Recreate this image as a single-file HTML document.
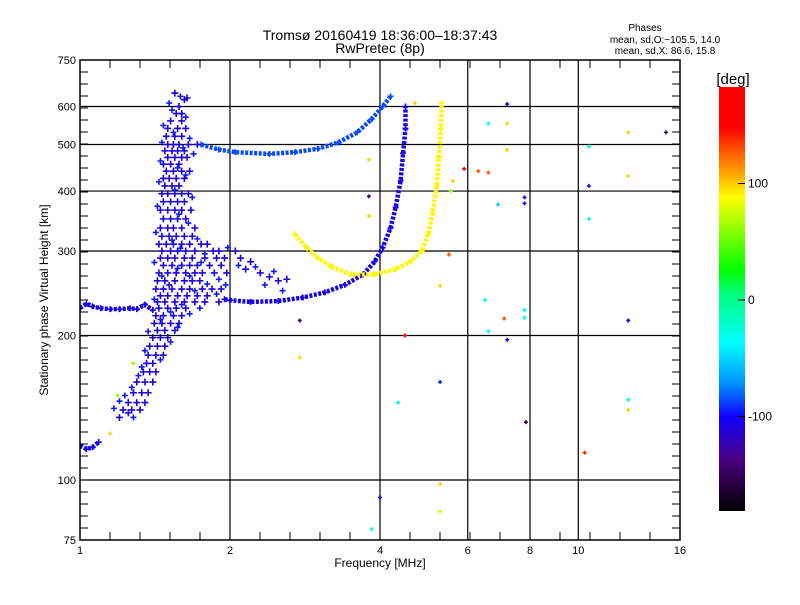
<!DOCTYPE html>
<html><head><meta charset="utf-8">
<style>
body{margin:0;background:#fff;}
svg text{font-family:"Liberation Sans",sans-serif;fill:#000;}
</style></head>
<body>
<svg id="chart" width="800" height="600" viewBox="0 0 800 600" xmlns="http://www.w3.org/2000/svg">
<defs>
<linearGradient id="cbg" x1="0" y1="1" x2="0" y2="0">
<stop offset="0" stop-color="#000000"/>
<stop offset="0.12" stop-color="#4a0080"/>
<stop offset="0.222" stop-color="#1000ff"/>
<stop offset="0.30" stop-color="#0090ff"/>
<stop offset="0.396" stop-color="#00ffff"/>
<stop offset="0.51" stop-color="#00ff80"/>
<stop offset="0.568" stop-color="#00ff00"/>
<stop offset="0.74" stop-color="#ffff00"/>
<stop offset="0.81" stop-color="#ff9000"/>
<stop offset="0.905" stop-color="#ff0000"/>
<stop offset="1" stop-color="#ff0000"/>
</linearGradient>
<clipPath id="pc"><rect x="80" y="60" width="600" height="480"/></clipPath>
</defs>
<text x="380" y="40" font-size="14" text-anchor="middle">Tromsø 20160419 18:36:00–18:37:43</text>
<text x="380" y="53" font-size="14" text-anchor="middle">RwPretec (8p)</text>
<g font-size="10" text-anchor="middle">
<text x="645" y="31">Phases</text>
<text x="665" y="43">mean, sd,O:−105.5, 14.0</text>
<text x="665" y="54">mean, sd,X:  86.6, 15.8</text>
</g>
<g id="grid"></g>
<g id="marks" clip-path="url(#pc)"></g>
<rect x="80" y="60" width="600" height="480" fill="none" stroke="#000" stroke-width="1.5"/>
<g id="ticks"></g>
<text x="380" y="567" font-size="12" text-anchor="middle">Frequency [MHz]</text>
<text x="48" y="300" font-size="12" text-anchor="middle" transform="rotate(-90 48 300)">Stationary phase Virtual Height [km]</text>
<rect x="719" y="87" width="26" height="424" fill="url(#cbg)"/>
<text x="733" y="84" font-size="15" text-anchor="middle">[deg]</text>
<g id="cbticks" font-size="12"></g>
</svg>
<script>
const xTicks=[1,2,4,6,8,10,16];
const yTicks=[75,100,200,300,400,500,600,750];
const xGrid=[2,4,6,8,10];
const yGrid=[100,200,300,400,500,600];
const cbTicks=[100,0,-100];
// traces: [freq MHz, height km]
const lowTrace=[[1.0,228],[1.03,233],[1.06,230],[1.1,228],[1.15,227],[1.2,227],[1.26,228],[1.3,227],[1.35,232],[1.4,226]];
const esTrace=[[1.0,118],[1.03,116],[1.06,117],[1.09,120]];
const oTrace=[[1.95,238],[2.0,237],[2.2,235],[2.5,236],[2.8,240],[3.1,246],[3.4,255],[3.7,268],[3.9,285],[4.05,305],[4.2,335],[4.3,370],[4.4,420],[4.45,480],[4.5,540],[4.5,600]];
const upperTrace=[[1.75,500],[1.9,488],[2.05,482],[2.4,478],[2.7,482],[3.0,490],[3.3,505],[3.6,530],[3.85,565],[4.05,600],[4.2,630]];
const xTrace=[[2.7,325],[2.85,305],[3.0,290],[3.2,278],[3.5,268],[3.9,268],[4.3,275],[4.6,285],[4.85,300],[5.0,325],[5.1,360],[5.2,410],[5.25,470],[5.3,540],[5.32,610]];
const tracePhase=[-105,-105,-105,-85,90];
const cluster=[[1.55,640],[1.62,620],[1.64,625],[1.58,600],[1.56,580],[1.6,580],[1.52,560],[1.6,560],[1.5,540],[1.57,540],[1.63,540],[1.49,520],[1.55,520],[1.6,520],[1.5,500],[1.54,500],[1.58,500],[1.65,500],[1.72,500],[1.48,485],[1.53,485],[1.57,485],[1.62,485],[1.5,470],[1.55,470],[1.6,470],[1.64,470],[1.47,455],[1.52,455],[1.58,455],[1.49,440],[1.54,440],[1.6,440],[1.66,440],[1.47,425],[1.51,425],[1.56,425],[1.62,425],[1.48,410],[1.53,410],[1.58,410],[1.46,395],[1.5,395],[1.55,395],[1.6,395],[1.65,395],[1.47,380],[1.52,380],[1.57,380],[1.62,380],[1.45,365],[1.5,365],[1.55,365],[1.6,365],[1.67,365],[1.47,350],[1.52,350],[1.57,350],[1.63,350],[1.45,335],[1.5,335],[1.54,335],[1.6,335],[1.7,335],[1.46,322],[1.51,322],[1.56,322],[1.62,322],[1.68,322],[1.44,310],[1.49,310],[1.54,310],[1.6,310],[1.66,310],[1.75,310],[1.8,310],[1.46,300],[1.52,300],[1.57,300],[1.63,300],[1.7,300],[1.85,300],[1.9,300],[1.45,290],[1.5,290],[1.55,290],[1.62,290],[1.68,290],[1.78,290],[1.88,290],[1.95,290],[1.47,280],[1.53,280],[1.6,280],[1.66,280],[1.72,280],[1.82,280],[1.92,280],[1.44,270],[1.5,270],[1.56,270],[1.63,270],[1.7,270],[1.76,270],[1.86,270],[1.97,270],[1.43,260],[1.48,260],[1.55,260],[1.62,260],[1.68,260],[1.74,260],[1.42,250],[1.47,250],[1.53,250],[1.6,250],[1.66,250],[1.76,250],[1.84,250],[1.92,250],[1.45,242],[1.5,242],[1.57,242],[1.64,242],[1.72,242],[1.8,242],[1.43,235],[1.48,235],[1.55,235],[1.62,235],[1.7,235],[1.78,235],[1.9,235],[1.44,228],[1.5,228],[1.56,228],[1.63,228],[1.42,220],[1.47,220],[1.54,220],[1.6,220],[1.41,212],[1.46,212],[1.52,212],[1.58,212],[1.43,205],[1.48,205],[1.55,205],[1.4,198],[1.45,198],[1.5,198],[1.38,190],[1.43,190],[1.48,190],[1.37,182],[1.42,182],[1.47,182],[1.36,175],[1.4,175],[1.34,168],[1.38,168],[1.42,168],[1.3,160],[1.35,160],[1.4,160],[1.28,152],[1.33,152],[1.37,152],[1.25,145],[1.3,145],[1.35,145],[1.22,140],[1.27,140],[1.32,140],[1.2,135],[1.25,138],[2.05,300],[2.1,290],[2.15,275],[2.2,285],[2.3,270],[2.4,265],[2.5,260],[2.6,262]];
const cluster2=[[1.51,610],[1.59,630],[1.53,590],[1.63,570],[1.47,548],[1.54,530],[1.66,515],[1.46,505],[1.61,492],[1.69,478],[1.45,462],[1.57,447],[1.63,432],[1.44,418],[1.55,402],[1.68,388],[1.43,372],[1.58,358],[1.65,343],[1.42,328],[1.53,316],[1.72,318],[1.59,304],[1.78,296],[1.41,284],[1.57,276],[1.75,284],[1.9,262],[1.46,266],[1.66,266],[1.8,256],[1.51,255],[1.7,248],[1.88,244],[1.41,238],[1.6,232],[1.74,228],[1.52,224],[1.66,222],[1.45,216],[1.57,208],[1.37,204],[1.52,194],[1.35,186],[1.45,178],[1.33,172],[1.31,165],[1.27,156],[1.23,150],[1.2,146],[1.17,141],[1.28,135],[1.98,305],[2.08,280],[2.25,278],[2.45,272],[2.35,255],[2.55,248],[1.96,255]];
const clusterPhase=-108;
const isoF=[4.0,3.85,5.28,5.28,4.35,5.28,7.1,6.6,6.5,7.2,7.8,7.8,7.85,6.6,7.2,7.2,7.2,7.8,7.8,6.9,10.5,10.5,10.5,10.3,12.6,12.6,12.6,12.6,12.6,15,2.76,2.76,4.49,5.28,5.5,5.9,3.8,3.8,3.8,6.3,6.6,1.28,1.19,1.15,4.7,5.55,5.6];
const isoH=[92,79,98,86,145,160,217,204,237,196,226,218,132,553,607,553,487,388,377,375,410,495,350,114,530,430,215,147,140,530,215,180,200,254,295,445,465,355,390,440,437,175,150,125,610,400,420];
const isoP=[-110,-30,100,80,-40,-90,130,-30,-40,-110,-40,-40,-150,-30,-110,100,100,-105,-105,-50,-95,-40,-40,140,100,100,-105,-40,100,-150,-140,100,160,100,130,160,100,100,-140,130,130,60,60,100,100,60,100];

const NS='http://www.w3.org/2000/svg';
function fx(f){return 80+600*Math.log(f)/Math.log(16);}
function fy(h){return 540-480*Math.log10(h/75);}
const cStops=[[-181,[0,0,0]],[-137,[74,0,128]],[-100,[16,0,255]],[-70,[0,144,255]],[-37,[0,255,255]],[10,[0,255,128]],[26,[0,255,0]],[88,[255,255,0]],[117,[255,144,0]],[148,[255,0,0]],[184,[255,0,0]]];
function pcol(p){
  for(let i=1;i<cStops.length;i++){
    if(p<=cStops[i][0]){const a=cStops[i-1],b=cStops[i];const t=Math.max(0,(p-a[0])/(b[0]-a[0]));
      const c=a[1].map((v,k)=>Math.round(v+(b[1][k]-v)*t));return 'rgb('+c.join(',')+')';}
  }
  return 'rgb(255,0,0)';
}
function mk(tag,attrs,parent){const e=document.createElementNS(NS,tag);for(const k in attrs)e.setAttribute(k,attrs[k]);parent.appendChild(e);return e;}
const grid=document.getElementById('grid'),ticks=document.getElementById('ticks'),marks=document.getElementById('marks'),cbt=document.getElementById('cbticks');
xGrid.forEach(v=>{const l=mk('line',{x1:fx(v),x2:fx(v),y1:60,y2:540,stroke:'#000','stroke-width':1.2},grid);

});
yGrid.forEach(v=>{const l=mk('line',{x1:80,x2:680,y1:fy(v),y2:fy(v),stroke:'#000','stroke-width':1.2},grid);

});
for(let x=80;x<=680;x+=30){mk('line',{x1:x,x2:x,y1:540,y2:532,stroke:'#000'},ticks);mk('line',{x1:x,x2:x,y1:60,y2:68,stroke:'#000'},ticks);}
for(let y=540;y>=60;y-=12){mk('line',{x1:80,x2:88,y1:y,y2:y,stroke:'#000'},ticks);mk('line',{x1:672,x2:680,y1:y,y2:y,stroke:'#000'},ticks);}
xTicks.forEach(v=>{const t=mk('text',{x:fx(v),y:554,'font-size':11,'text-anchor':'middle'},ticks);t.textContent=v;

});
yTicks.forEach(v=>{const t=mk('text',{x:76,y:fy(v)+4,'font-size':11,'text-anchor':'end'},ticks);t.textContent=v;

});
cbTicks.forEach(v=>{const y=300-v*1.165;mk('line',{x1:738,x2:745,y1:y,y2:y,stroke:'#000'},cbt);
const t=mk('text',{x:748,y:y+4},cbt);t.textContent=v;

});
function plus(f,h,p,s){const x=fx(f),y=fy(h);
const g=mk('path',{d:`M${x-s} ${y}H${x+s}M${x} ${y-s}V${y+s}`,stroke:pcol(p),'stroke-width':1.6},marks);
return g;}
const traces=[lowTrace,esTrace,oTrace,upperTrace,xTrace];
const tNames=['low-trace','es-trace','o-mode-trace','upper-trace','x-mode-trace'];
traces.forEach((tr,i)=>{
  const pl=mk('polyline',{points:tr.map(d=>fx(d[0])+','+fy(d[1])).join(' '),fill:'none',stroke:pcol(tracePhase[i]),'stroke-width':4.5,'stroke-dasharray':'3 1.5'},marks);
  
  
  tr.forEach(d=>{const m=plus(d[0],d[1],tracePhase[i],3);
  
  });
});
cluster.forEach(d=>{const m=plus(d[0],d[1],clusterPhase,3.5);

});
cluster2.forEach(d=>{const m=plus(d[0],d[1],-95,3);

});
isoF.forEach((f,i)=>{const m=plus(f,isoH[i],isoP[i],2);

});
</script>
</body></html>
